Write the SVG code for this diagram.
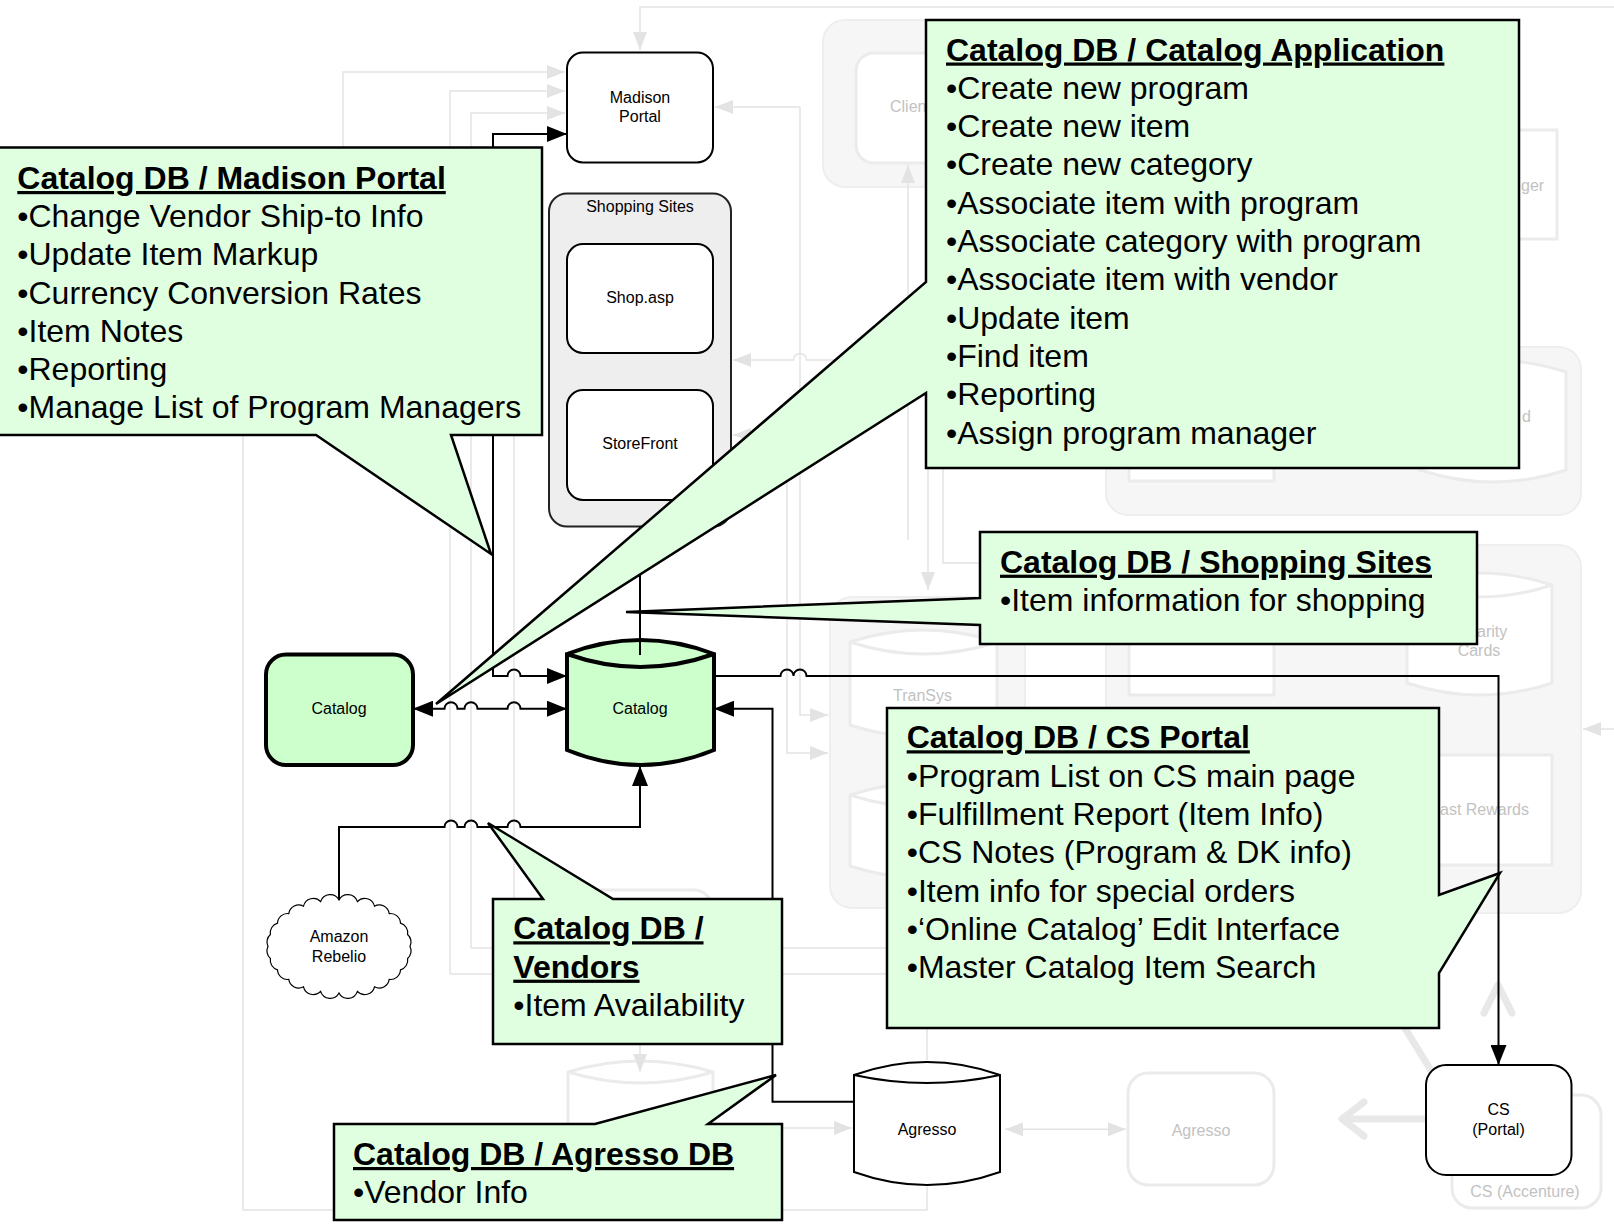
<svg xmlns="http://www.w3.org/2000/svg" width="1614" height="1225" viewBox="0 0 1614 1225">
<style>
text{font-family:"Liberation Sans",Arial,sans-serif;fill:#000}
.cb{fill:#E0FFE0;stroke:#000;stroke-width:2.5;stroke-linejoin:miter}
.ct{font-size:32px;font-weight:bold;text-decoration:underline}
.cx{font-size:32px}
.n{fill:#fff;stroke:#000;stroke-width:2}
.g{fill:#CCFFCC;stroke:#000;stroke-width:4}
.nl{font-size:16px;text-anchor:middle}
.c{fill:none;stroke:#000;stroke-width:2}
.f{fill:none;stroke:#e3e3e3;stroke-width:1.5}
.fk{fill:none;stroke:#e8e8e8;stroke-width:7;stroke-linecap:round;stroke-linejoin:round}
.fg{fill:#f6f6f6;stroke:#eeeeee;stroke-width:2}
.fn{fill:#fff;stroke:#ebebeb;stroke-width:3}
.ft{font-size:16px;fill:#c2c2c2}
</style>
<defs>
<marker id="ah" viewBox="0 0 20 16" refX="20" refY="8" markerWidth="20" markerHeight="16" markerUnits="userSpaceOnUse" orient="auto-start-reverse"><path d="M0,0 L20,8 L0,16 z" fill="#000"/></marker>
<marker id="fa" viewBox="0 0 18 14" refX="18" refY="7" markerWidth="18" markerHeight="14" markerUnits="userSpaceOnUse" orient="auto-start-reverse"><path d="M0,0 L18,7 L0,14 z" fill="#e3e3e3"/></marker>
</defs>
<rect x="0" y="0" width="1614" height="1225" fill="#fff"/>

<g id="faded-background">
<rect x="823" y="20" width="180" height="167" rx="22" class="fg"/>
<rect x="856" y="53" width="130" height="110" rx="18" class="fn"/>
<text x="890" y="112.4" class="ft">Clien</text>
<rect x="1420" y="130" width="137" height="109" class="fn" stroke-width="2"/>
<text x="1521" y="190.7" class="ft">ger</text>
<rect x="1106" y="347" width="475" height="168" rx="22" class="fg"/>
<rect x="1129" y="380" width="145" height="101" class="fn"/>
<path class="fn" d="M1420,372 Q1493,348 1566,372 V470 Q1493,494 1420,470 Z"/>
<text x="1522" y="422.4" class="ft">d</text>
<rect x="1106" y="545" width="475" height="368" rx="22" class="fg"/>
<rect x="1129" y="560" width="145" height="135" class="fn"/>
<path class="fn" d="M1407,585 Q1479.5,561 1552,585 V683 Q1479.5,707 1407,683 Z"/>
<path class="fn" d="M1407,585 Q1479.5,609 1552,585"/>
<text x="1477" y="636.7" class="ft">arity</text>
<text x="1479" y="656.4" class="ft" text-anchor="middle">Cards</text>
<rect x="1420" y="755" width="132" height="110" class="fn"/>
<text x="1440" y="815" class="ft">ast Rewards</text>
<rect x="830" y="597" width="195" height="311" rx="22" class="fg"/>
<path class="fn" d="M850,642 Q923.5,618 997,642 V725 Q923.5,749 850,725 Z"/>
<path class="fn" d="M850,642 Q923.5,666 997,642"/>
<text x="893" y="701.4" class="ft">TranSys</text>
<path class="fn" d="M850,795 Q923.5,771 997,795 V866 Q923.5,890 850,866 Z"/>
<path class="fn" d="M850,795 Q923.5,819 997,795"/>
<rect x="560" y="890" width="152" height="120" rx="18" class="fn"/>
<path class="fn" d="M568,1072 Q640.5,1050 713,1072 V1180 Q640.5,1202 568,1180 Z"/>
<path class="fn" d="M568,1072 Q640.5,1094 713,1072"/>
<rect x="1128" y="1073" width="146" height="112" rx="20" class="fn"/>
<text x="1201" y="1135.5" class="ft" text-anchor="middle">Agresso</text>
<rect x="1452" y="1095" width="149" height="113" rx="20" class="fn"/>
<text x="1525" y="1197.4" class="ft" text-anchor="middle">CS (Accenture)</text>
<path class="f" d="M1614,7 H640 V50" marker-end="url(#fa)"/>
<path class="f" d="M343,200 V72 H565" marker-end="url(#fa)"/>
<path class="f" d="M450,974 V91 H565" marker-end="url(#fa)"/>
<path class="f" d="M471,948 V113 H565" marker-end="url(#fa)"/>
<path class="f" d="M450,974 H900"/>
<path class="f" d="M471,948 H900"/>
<path class="f" d="M514,300 V943"/>
<path class="f" d="M243,300 V1210 H927 V1187"/>
<path class="f" d="M927,908 V1060"/>
<path class="f" d="M640,1040 V1072" marker-end="url(#fa)"/>
<path class="f" d="M700,1128 H852" marker-end="url(#fa)"/>
<path class="f" d="M800,107 H715" marker-end="url(#fa)"/>
<path class="f" d="M800,107 V715 H828" marker-end="url(#fa)"/>
<path class="f" d="M787,435 V753 H828" marker-end="url(#fa)"/>
<path class="f" d="M787,435 H733" marker-end="url(#fa)"/>
<path class="f" d="M926,360 H806.5 a6.5,6.5 0 0 0 -13,0 H733" marker-end="url(#fa)"/>
<path class="f" d="M908,540 V165" marker-end="url(#fa)"/>
<path class="f" d="M928,468 V590" marker-end="url(#fa)"/>
<path class="f" d="M943,468 V563 H990"/>
<path class="f" d="M1614,729 H1583" marker-end="url(#fa)"/>
<path class="f" d="M1005,1129.3 H1126" marker-start="url(#fa)" marker-end="url(#fa)"/>
<path class="fk" d="M1426,1119 H1345 M1364,1102 L1342,1119 L1364,1136"/>
<path class="fk" d="M1484,1013 L1498,985 L1512,1013"/>
<path class="fk" d="M1432,1072 L1372,975"/>
</g>

<g id="node-madison-portal">
<rect x="567" y="52.5" width="146" height="110" rx="16" class="n"/>
<text x="640" y="103.4" class="nl">Madison</text>
<text x="640" y="122.4" class="nl">Portal</text>
</g>
<g id="node-shopping-sites">
<rect x="549" y="193.5" width="182" height="333" rx="18" fill="#eeeeee" stroke="#222" stroke-width="2"/>
<text x="640" y="212.4" class="nl">Shopping Sites</text>
</g>
<g id="node-shop-asp">
<rect x="567" y="244" width="146" height="109" rx="16" class="n"/>
<text x="640" y="303.4" class="nl">Shop.asp</text>
</g>
<g id="node-storefront">
<rect x="567" y="390" width="146" height="110" rx="16" class="n"/>
<text x="640" y="449" class="nl">StoreFront</text>
</g>
<g id="node-catalog-app">
<rect x="266" y="654.5" width="147" height="110.5" rx="20" class="g"/>
<text x="339" y="714.4" class="nl">Catalog</text>
</g>
<g id="node-catalog-db">
<path class="g" d="M567,654 Q640.5,626 714,654 V750 Q640.5,780 567,750 Z"/>
<path fill="none" stroke="#000" stroke-width="4" d="M567,654 Q640.5,680 714,654"/>
<text x="640" y="714.4" class="nl">Catalog</text>
</g>
<g id="node-amazon-rebelio">
<path fill="#fff" stroke="#000" stroke-width="1.2" d="M410,946.5 A10,10 0 0 1 407.6,958.5 A10,10 0 0 1 400.5,969.8 A10,10 0 0 1 389.2,979.4 A10,10 0 0 1 374.5,986.8 A10,10 0 0 1 357.4,991.4 A10,10 0 0 1 339,993 A10,10 0 0 1 320.6,991.4 A10,10 0 0 1 303.5,986.8 A10,10 0 0 1 288.8,979.4 A10,10 0 0 1 277.5,969.8 A10,10 0 0 1 270.4,958.5 A10,10 0 0 1 268,946.5 A10,10 0 0 1 270.4,934.5 A10,10 0 0 1 277.5,923.2 A10,10 0 0 1 288.8,913.6 A10,10 0 0 1 303.5,906.2 A10,10 0 0 1 320.6,901.6 A10,10 0 0 1 339,900 A10,10 0 0 1 357.4,901.6 A10,10 0 0 1 374.5,906.2 A10,10 0 0 1 389.2,913.6 A10,10 0 0 1 400.5,923.2 A10,10 0 0 1 407.6,934.5 A10,10 0 0 1 410,946.5 Z"/>
<text x="339" y="942.4" class="nl">Amazon</text>
<text x="339" y="962.4" class="nl">Rebelio</text>
</g>
<g id="node-agresso">
<path class="n" d="M854,1075 Q927,1049 1000,1075 V1172 Q927,1198 854,1172 Z"/>
<path fill="none" stroke="#000" stroke-width="2" d="M854,1075 Q927,1091 1000,1075"/>
<text x="927" y="1135" class="nl">Agresso</text>
</g>
<g id="node-cs-portal">
<rect x="1426" y="1065" width="145.5" height="110" rx="20" class="n"/>
<text x="1498.5" y="1114.7" class="nl">CS</text>
<text x="1498.5" y="1135" class="nl">(Portal)</text>
</g>

<g id="connectors">
<path class="c" d="M567,134 H493 V676 H507.5 a6.5,6.5 0 0 1 13,0 H567" marker-start="url(#ah)" marker-end="url(#ah)"/>
<path class="c" d="M413,708.7 H444.5 a6.5,6.5 0 0 1 13,0 H464.5 a6.5,6.5 0 0 1 13,0 H507.5 a6.5,6.5 0 0 1 13,0 H567" marker-start="url(#ah)" marker-end="url(#ah)"/>
<path class="c" d="M640,527 V655"/>
<path class="c" d="M714,676 H780.5 a6.5,6.5 0 0 1 13,0 a6.5,6.5 0 0 1 13,0 H1498.5 V1065" marker-end="url(#ah)"/>
<path class="c" d="M854,1101.7 H772.5 V708.7 H714" marker-end="url(#ah)"/>
<path class="c" d="M339,900 V827 H444.5 a6.5,6.5 0 0 1 13,0 H464.5 a6.5,6.5 0 0 1 13,0 H507.5 a6.5,6.5 0 0 1 13,0 H640 V766" marker-end="url(#ah)"/>
</g>

<g id="callout-madison-portal">
<path class="cb" d="M-3,147.5 H542 V435 H451 L491,554 L316,435 H-3 Z"/>
<text x="17.3" y="189" class="ct">Catalog DB / Madison Portal</text>
<text x="17.3" y="227" class="cx">•Change Vendor Ship-to Info</text>
<text x="17.3" y="265.3" class="cx">•Update Item Markup</text>
<text x="17.3" y="303.5" class="cx">•Currency Conversion Rates</text>
<text x="17.3" y="341.7" class="cx">•Item Notes</text>
<text x="17.3" y="380" class="cx">•Reporting</text>
<text x="17.3" y="418" class="cx">•Manage List of Program Managers</text>
</g>
<g id="callout-catalog-application">
<path class="cb" d="M926,20 H1519 V468 H926 V393 L436,704 L926,282 Z"/>
<text x="946" y="60.5" class="ct">Catalog DB / Catalog Application</text>
<text x="946" y="98.8" class="cx">•Create new program</text>
<text x="946" y="137.1" class="cx">•Create new item</text>
<text x="946" y="175.4" class="cx">•Create new category</text>
<text x="946" y="213.7" class="cx">•Associate item with program</text>
<text x="946" y="252" class="cx">•Associate category with program</text>
<text x="946" y="290.3" class="cx">•Associate item with vendor</text>
<text x="946" y="328.6" class="cx">•Update item</text>
<text x="946" y="366.9" class="cx">•Find item</text>
<text x="946" y="405.2" class="cx">•Reporting</text>
<text x="946" y="443.5" class="cx">•Assign program manager</text>
</g>
<g id="callout-shopping-sites">
<path class="cb" d="M980,532 H1477 V644 H980 V625 L626,612 L980,598 Z"/>
<text x="1000" y="572.7" class="ct">Catalog DB / Shopping Sites</text>
<text x="1000" y="610.7" class="cx">•Item information for shopping</text>
</g>
<g id="callout-cs-portal">
<path class="cb" d="M887,708 H1439 V895 L1500,873 L1439,973 V1028 H887 Z"/>
<text x="906.7" y="748.3" class="ct">Catalog DB / CS Portal</text>
<text x="906.7" y="786.7" class="cx">•Program List on CS main page</text>
<text x="906.7" y="825" class="cx">•Fulfillment Report (Item Info)</text>
<text x="906.7" y="863.3" class="cx">•CS Notes (Program &amp; DK info)</text>
<text x="906.7" y="901.6" class="cx">•Item info for special orders</text>
<text x="906.7" y="939.9" class="cx">•‘Online Catalog’ Edit Interface</text>
<text x="906.7" y="978.2" class="cx">•Master Catalog Item Search</text>
</g>
<g id="callout-vendors">
<path class="cb" d="M493,899 H543 L488,823 L613,899 H782 V1044 H493 Z"/>
<text x="513.3" y="939.3" class="ct">Catalog DB /</text>
<text x="513.3" y="977.7" class="ct">Vendors</text>
<text x="513.3" y="1016" class="cx">•Item Availability</text>
</g>
<g id="callout-agresso-db">
<path class="cb" d="M334,1124 H595 L776,1075 L708,1124 H782 V1220 H334 Z"/>
<text x="353" y="1165" class="ct">Catalog DB / Agresso DB</text>
<text x="353" y="1203" class="cx">•Vendor Info</text>
</g>
</svg>
